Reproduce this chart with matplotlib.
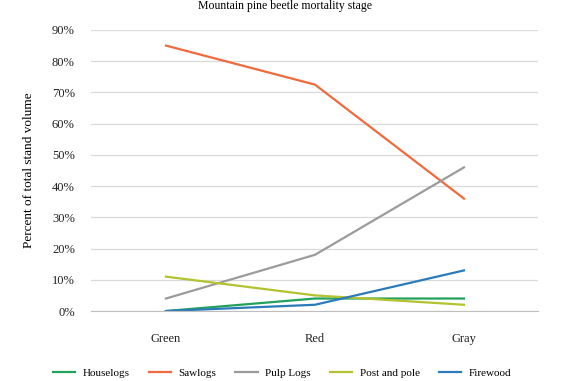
import numpy as np
import matplotlib.pyplot as plt
from matplotlib.ticker import PercentFormatter

plt.rcParams['font.family'] = ['Liberation Serif', 'DejaVu Serif']

stages = ['Green', 'Red', 'Gray']
houselogs = [0.0, 4.0, 4.0]
sawlogs = [85.0, 72.5, 36.0]
pulp_logs = [4.0, 18.0, 46.0]
post_pole = [11.0, 5.0, 2.0]
firewood = [0.0, 2.0, 13.0]

series = [
    ('Houselogs', houselogs, '#22a15a'),
    ('Sawlogs', sawlogs, '#f06a3c'),
    ('Pulp Logs', pulp_logs, '#9b9b9b'),
    ('Post and pole', post_pole, '#b3c22e'),
    ('Firewood', firewood, '#2b7bba'),
]

fig = plt.figure(figsize=(5.7, 3.81), dpi=100)
ax = fig.add_axes([0.1605, 0.1837, 0.7842, 0.7376])

x = np.arange(len(stages))
for name, vals, col in series:
    ax.plot(x, vals, color=col, lw=1.6, label=name)

ax.set_xlim(-0.5, 2.5)
ax.set_ylim(0, 90)
ax.set_yticks(np.arange(0, 91, 10))
ax.yaxis.set_major_formatter(PercentFormatter(decimals=0))
ax.set_xticks(x)
ax.set_xticklabels(stages)
ax.grid(axis='y', color='#d9d9d9', lw=0.9)
ax.set_axisbelow(True)
for s in ['top', 'right', 'left']:
    ax.spines[s].set_visible(False)
ax.spines['bottom'].set_color('#bfbfbf')
ax.tick_params(length=0, labelsize=9, colors='#222222')
ax.tick_params(axis='x', pad=16)
ax.tick_params(axis='y', pad=12)
ax.set_ylabel('Percent of total stand volume', fontsize=9.5, labelpad=12)

fig.text(0.5, 1.0, 'Mountain pine beetle mortality stage',
         ha='center', va='top', fontsize=8.5)

fig.legend(loc='center', bbox_to_anchor=(0.495, 1 - 373 / 381), ncol=5,
           frameon=False, fontsize=8, handlelength=2.0, columnspacing=1.7,
           handletextpad=0.7)

fig.savefig('out.png', dpi=100)
